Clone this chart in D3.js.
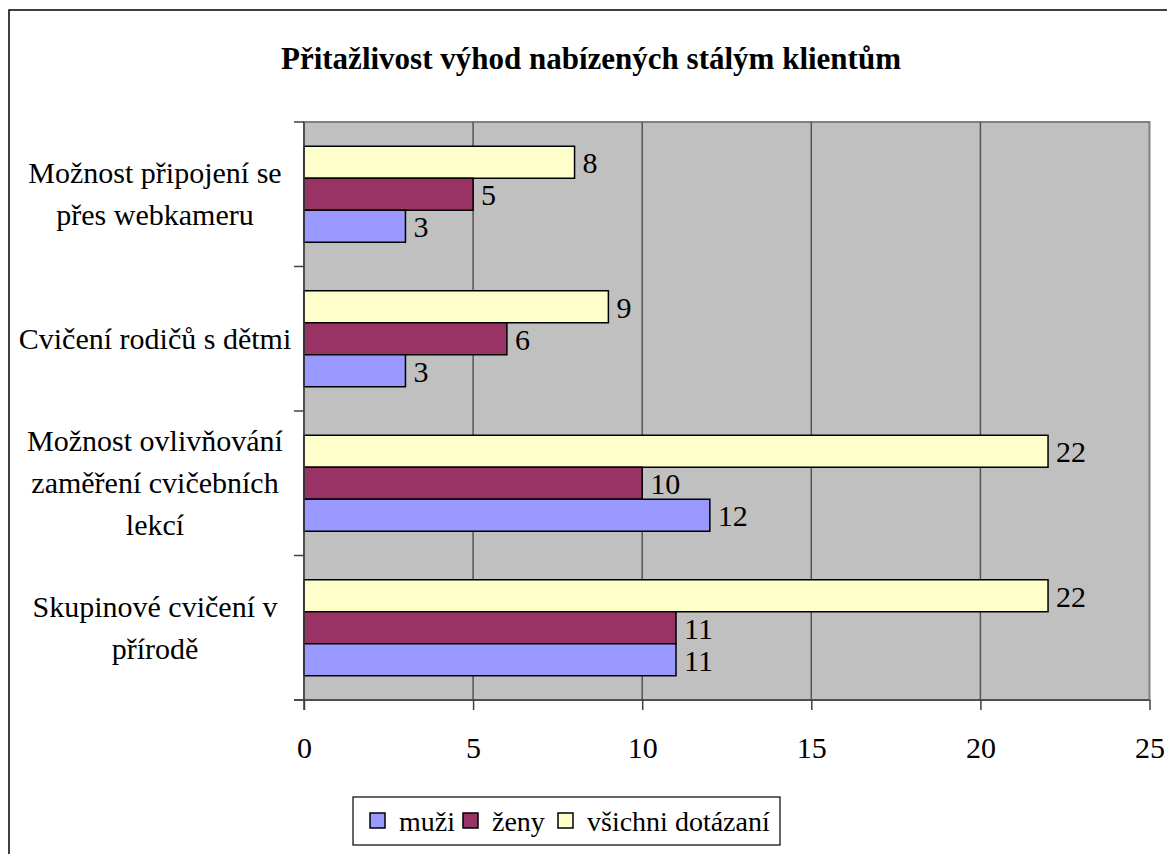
<!DOCTYPE html>
<html>
<head>
<meta charset="utf-8">
<script src="https://cdn.jsdelivr.net/npm/d3@7"></script>
</head>
<body style="margin:0">
<script>
// Chart data, categories listed top to bottom as shown.
var categories = [
    ["Možnost připojení se", "přes webkameru"],
    ["Cvičení rodičů s dětmi"],
    ["Možnost ovlivňování", "zaměření cvičebních", "lekcí"],
    ["Skupinové cvičení v", "přírodě"]
];
var series_names = ["všichni dotázaní", "ženy", "muži"];
var vsichni = [8, 9, 22, 22];
var zeny = [5, 6, 10, 11];
var muzi = [3, 3, 12, 11];
var x_ticks = [0, 5, 10, 15, 20, 25];
var legend_names = ["muži", "ženy", "všichni dotázaní"];

var colours = {"muži": "#9999ff", "ženy": "#993366", "všichni dotázaní": "#ffffcc"};
var values = {"muži": muzi, "ženy": zeny, "všichni dotázaní": vsichni};

var font = '"Liberation Serif", Tinos, "Times New Roman", Times';
var fs = 30;
var width = 1167, height = 854;
var svg = d3.select('body').append('svg')
    .attr('width', width)
    .attr('height', height)
    .style('font-family', font);

// Outer chart frame (runs off the right and bottom edges).
svg.append('rect')
    .attr('x', 9).attr('y', 10)
    .attr('width', 1200).attr('height', 900)
    .attr('fill', 'none').attr('stroke', '#000').attr('stroke-width', 1.5);

svg.append('text')
    .attr('x', 591).attr('y', 69)
    .attr('text-anchor', 'middle')
    .style('font-family', font)
    .style('font-size', '31px').style('font-weight', 'bold')
    .text('Přitažlivost výhod nabízených stálým klientům');

var plot = {left: 304, right: 1149.5, top: 122, bottom: 700};

var x = d3.scaleLinear().domain([0, 25]).range([plot.left, plot.right]);
var y = d3.scaleBand().domain(d3.range(categories.length))
    .range([plot.top, plot.bottom]).padding(0);
var y_inner = d3.scaleBand().domain(series_names)
    .range([0, y.bandwidth()]).paddingInner(0).paddingOuter(0.758);

// Plot area background.
svg.append('rect')
    .attr('x', plot.left).attr('y', plot.top)
    .attr('width', plot.right - plot.left).attr('height', plot.bottom - plot.top)
    .attr('fill', '#c0c0c0').attr('stroke', '#808080').attr('stroke-width', 2);

// Vertical gridlines.
svg.append('g').selectAll('line')
    .data(x_ticks.slice(1, -1))
    .enter().append('line')
    .attr('x1', d => x(d)).attr('x2', d => x(d))
    .attr('y1', plot.top).attr('y2', plot.bottom)
    .attr('stroke', '#555').attr('stroke-width', 1.5);

// Bars and value labels.
series_names.forEach(function(name) {
    var g = svg.append('g');
    g.selectAll('rect')
        .data(values[name])
        .enter().append('rect')
        .attr('x', x(0))
        .attr('y', (d, i) => y(i) + y_inner(name))
        .attr('width', d => x(d) - x(0))
        .attr('height', y_inner.bandwidth())
        .attr('fill', colours[name])
        .attr('stroke', '#000').attr('stroke-width', 1.5);
    g.selectAll('text')
        .data(values[name])
        .enter().append('text')
        .attr('x', d => x(d) + 8)
        .attr('y', (d, i) => y(i) + y_inner(name) + y_inner.bandwidth() / 2 + 11)
        .style('font-family', font)
        .style('font-size', fs + 'px')
        .text(d => d);
});

// X axis.
var x_axis = d3.axisBottom(x).tickValues(x_ticks).tickSize(10).tickPadding(27);
var gx = svg.append('g')
    .attr('transform', 'translate(0,' + plot.bottom + ')')
    .call(x_axis)
    .attr('font-family', null);
gx.selectAll('path, line').attr('stroke', '#404040').attr('stroke-width', 1.5);
gx.select('.domain').attr('d', 'M' + (plot.left - 10) + ',0H' + plot.right);
gx.selectAll('text')
    .style('font-family', font).style('font-size', fs + 'px')
    .attr('fill', '#000');

// Y axis with ticks at band boundaries.
var gy = svg.append('g');
gy.append('line')
    .attr('x1', plot.left).attr('x2', plot.left)
    .attr('y1', plot.top).attr('y2', plot.bottom + 10)
    .attr('stroke', '#404040').attr('stroke-width', 1.5);
gy.selectAll('line.tick')
    .data(d3.range(categories.length + 1))
    .enter().append('line')
    .attr('class', 'tick')
    .attr('x1', plot.left - 10).attr('x2', plot.left)
    .attr('y1', i => plot.top + i * y.step()).attr('y2', i => plot.top + i * y.step())
    .attr('stroke', '#404040').attr('stroke-width', 1.5);

// Category labels (multi-line, centred).
var line_h = 42;
categories.forEach(function(lines, i) {
    var cy = y(i) + y.bandwidth() / 2;
    lines.forEach(function(line, j) {
        svg.append('text')
            .attr('text-anchor', 'middle')
            .attr('x', 155)
            .attr('y', cy + (j - (lines.length - 1) / 2) * line_h + 10)
            .style('font-family', font)
            .style('font-size', fs + 'px')
            .text(line);
    });
});

// Legend.
var legend = svg.append('g');
legend.append('rect')
    .attr('x', 353).attr('y', 797).attr('width', 427).attr('height', 48)
    .attr('fill', '#fff').attr('stroke', '#000').attr('stroke-width', 1.2);
var item_x = [370, 463, 558];
legend_names.forEach(function(name, i) {
    legend.append('rect')
        .attr('x', item_x[i]).attr('y', 813).attr('width', 15).attr('height', 15)
        .attr('fill', colours[name]).attr('stroke', '#000').attr('stroke-width', 1.5);
    legend.append('text')
        .attr('x', item_x[i] + 29).attr('y', 831)
        .style('font-family', font)
        .style('font-size', '28px')
        .text(name);
});
</script>
</body>
</html>
